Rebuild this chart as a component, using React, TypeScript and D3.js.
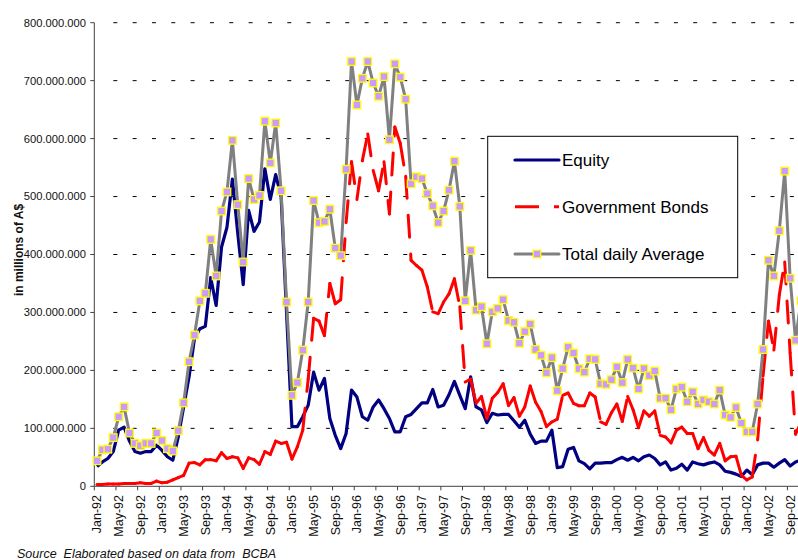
import React from "react";
import * as d3 from "d3";

// Monthly data Jan-92 .. Nov-02, values in millions of A$
const tickLabels = [
  "Jan-92","May-92","Sep-92","Jan-93","May-93","Sep-93","Jan-94","May-94","Sep-94",
  "Jan-95","May-95","Sep-95","Jan-96","May-96","Sep-96","Jan-97","May-97","Sep-97",
  "Jan-98","May-98","Sep-98","Jan-99","May-99","Sep-99","Jan-00","May-00","Sep-00",
  "Jan-01","May-01","Sep-01","Jan-02","May-02","Sep-02",
];

const equity = [
  34, 42, 48, 60, 97, 102, 78, 60, 57, 60,
  60, 71, 62, 51, 45, 85, 137, 189, 255, 272,
  276, 360, 312, 413, 447, 530, 436, 348, 476, 440,
  456, 548, 495, 538, 500, 300, 103, 103, 120, 140,
  197, 166, 186, 117, 88, 65, 91, 166, 154, 120,
  114, 137, 149, 134, 117, 94, 94, 120, 124, 134,
  144, 144, 167, 137, 140, 158, 181, 157, 134, 189,
  137, 132, 110, 126, 123, 124, 124, 113, 102, 114,
  90, 74, 78, 78, 97, 32, 34, 64, 67, 44,
  39, 30, 40, 40, 41, 41, 46, 50, 45, 50,
  44, 51, 54, 48, 37, 42, 28, 31, 38, 28,
  42, 39, 37, 40, 42, 37, 26, 24, 21, 17,
  28, 20, 37, 40, 40, 33, 40, 46, 35, 42,
  45,
];

const bonds = [
  3, 3, 4, 4, 4, 5, 5, 5, 6, 5,
  5, 9, 6, 7, 11, 15, 19, 40, 41, 37,
  46, 46, 44, 58, 48, 51, 49, 31, 49, 46,
  38, 60, 55, 78, 74, 76, 47, 68, 97, 185,
  290, 285, 260, 350, 315, 322, 455, 560, 495, 562,
  608, 545, 510, 560, 470, 620, 592, 535, 390, 381,
  373, 344, 301, 298, 318, 332, 358, 310, 180, 185,
  143, 155, 117, 152, 162, 177, 139, 153, 121, 137,
  173, 145, 129, 103, 111, 116, 157, 161, 143, 139,
  139, 161, 154, 111, 107, 127, 142, 112, 155, 132,
  101, 130, 121, 130, 88, 85, 75, 97, 102, 91,
  91, 65, 84, 62, 54, 74, 44, 51, 52, 19,
  11, 16, 80, 190, 285, 235, 330, 387, 230, 90,
  110,
];

const total = [
  44, 63, 64, 84, 120, 137, 92, 74, 70, 74,
  74, 92, 79, 65, 61, 96, 144, 215, 261, 320,
  333, 426, 363, 475, 508, 597, 486, 387, 531, 495,
  502, 630, 558, 627, 510, 318, 157, 179, 235, 318,
  493, 455, 457, 478, 411, 398, 547, 733, 658, 704,
  733, 696, 673, 707, 598, 729, 706, 668, 522, 534,
  531, 505, 484, 455, 475, 511, 561, 483, 320, 407,
  304, 310, 246, 301, 307, 322, 286, 283, 247, 267,
  280, 236, 226, 196, 222, 165, 203, 240, 230, 203,
  197, 220, 219, 177, 176, 184, 206, 179, 219, 204,
  168, 203, 191, 199, 152, 152, 132, 168, 171, 146,
  163, 142, 149, 146, 142, 166, 123, 119, 136, 109,
  94, 94, 142, 236, 390, 363, 441, 544, 359, 252,
  320,
];

const yTicks = [0, 100, 200, 300, 400, 500, 600, 700, 800];
const seriesNames = ["Equity", "Government Bonds", "Total daily Average"];

const FONT = "'Liberation Sans', Arial, Helvetica, sans-serif";
const NAVY = "#000080";
const RED = "#FF0000";
const GRAY = "#808080";
const MARK_FILL = "#CC99FF";
const MARK_EDGE = "#FFFF00";

export default function App() {
  const W = 798;
  const H = 560;
  const left = 94.3;
  const top = 22.7;
  const bottom = 486.3;
  const nCats = 132;
  const step = 5.415;

  const x = d3
    .scaleBand<number>()
    .domain(d3.range(nCats))
    .range([left, left + nCats * step])
    .paddingInner(0)
    .paddingOuter(0);
  const cx = (i: number) => (x(i) as number) + x.bandwidth() / 2;
  const y = d3.scaleLinear().domain([0, 800]).range([bottom, top]);

  const line = d3
    .line<number>()
    .x((_, i) => cx(i))
    .y((d) => y(d));

  const loc = d3.formatLocale({
    decimal: ",",
    thousands: ".",
    grouping: [3],
    currency: ["", ""],
  });
  const fmt = loc.format(",");

  const gridStart = 113.3;
  const tickIdx = tickLabels.map((_, k) => k * 4);

  const legX = 487.7;
  const legY = 136.3;
  const legRows = [160, 206.7, 254];

  return (
    <svg
      width={W}
      height={H}
      viewBox={`0 0 ${W} ${H}`}
      style={{ position: "absolute", left: 0, top: 0, background: "#fff" }}
      fontFamily={FONT}
    >
      <rect x={0} y={0} width={W} height={H} fill="#fff" />

      {/* gridlines */}
      {yTicks
        .filter((v) => v > 0)
        .map((v) => (
          <line
            key={"g" + v}
            x1={gridStart}
            x2={W + 20}
            y1={y(v)}
            y2={y(v)}
            stroke="#000"
            strokeWidth={1}
            strokeDasharray="4 15.33"
          />
        ))}

      {/* y axis */}
      <line x1={left} x2={left} y1={top} y2={bottom} stroke="#404040" strokeWidth={1} />
      {yTicks.map((v) => (
        <g key={"yt" + v}>
          <line x1={left - 4} x2={left} y1={y(v)} y2={y(v)} stroke="#404040" strokeWidth={1} />
          <text
            x={86}
            y={y(v)}
            dy="0.35em"
            textAnchor="end"
            fontSize={11.2}
            fill="#111"
          >
            {fmt(v * 1e6)}
          </text>
        </g>
      ))}
      <text
        transform={`translate(19,250) rotate(-90)`}
        textAnchor="middle"
        dy="0.35em"
        fontSize={12}
        fontWeight="bold"
        fill="#111"
      >
        in millions of A$
      </text>

      {/* x axis */}
      <line x1={left} x2={W + 20} y1={bottom} y2={bottom} stroke="#404040" strokeWidth={1} />
      {tickIdx.map((i, k) => (
        <g key={"xt" + i}>
          <line
            x1={x(i) as number}
            x2={x(i) as number}
            y1={bottom}
            y2={bottom + 4}
            stroke="#404040"
            strokeWidth={1}
          />
          <text
            transform={`translate(${cx(i)},${495}) rotate(-90)`}
            textAnchor="end"
            dy="0.35em"
            fontSize={12.5}
            fill="#111"
          >
            {tickLabels[k]}
          </text>
        </g>
      ))}

      {/* Equity */}
      <path d={line(equity) || ""} fill="none" stroke={NAVY} strokeWidth={3.2} strokeLinejoin="round" />

      {/* Government bonds: dash pattern restarts on every segment */}
      {d3.pairs(bonds).map(([a, b], i) => (
        <line
          key={"b" + i}
          x1={cx(i)}
          y1={y(a)}
          x2={cx(i + 1)}
          y2={y(b)}
          stroke={RED}
          strokeWidth={3}
          strokeLinecap="round"
          strokeDasharray="22 17"
        />
      ))}

      {/* Total daily average */}
      <path d={line(total) || ""} fill="none" stroke={GRAY} strokeWidth={3} strokeLinejoin="round" />
      {total.map((v, i) => (
        <rect
          key={"m" + i}
          x={cx(i) - 3.8}
          y={y(v) - 3.8}
          width={7.6}
          height={7.6}
          fill={MARK_FILL}
          stroke={MARK_EDGE}
          strokeWidth={1.3}
        />
      ))}

      {/* legend */}
      <rect x={legX} y={legY} width={250} height={141.4} fill="#fff" stroke="#000" strokeWidth={1} />
      <line x1={515} x2={559} y1={legRows[0]} y2={legRows[0]} stroke={NAVY} strokeWidth={3.2} strokeLinecap="round" />
      <line x1={515} x2={559} y1={legRows[1]} y2={legRows[1]} stroke={RED} strokeWidth={3} strokeDasharray="24 15" />
      <line x1={515} x2={559} y1={legRows[2]} y2={legRows[2]} stroke={GRAY} strokeWidth={3} strokeLinecap="round" />
      <rect x={537 - 3.8} y={legRows[2] - 3.8} width={7.6} height={7.6} fill={MARK_FILL} stroke={MARK_EDGE} strokeWidth={1.3} />
      {seriesNames.map((s, k) => (
        <text key={s} x={562} y={legRows[k]} dy="0.36em" fontSize={17} fill="#000">
          {s}
        </text>
      ))}

      {/* source */}
      <text x={17} y={558} fontSize={12.5} fontStyle="italic" fill="#111" style={{ whiteSpace: "pre" }}>
        {"Source  Elaborated based on data from  BCBA"}
      </text>
    </svg>
  );
}
